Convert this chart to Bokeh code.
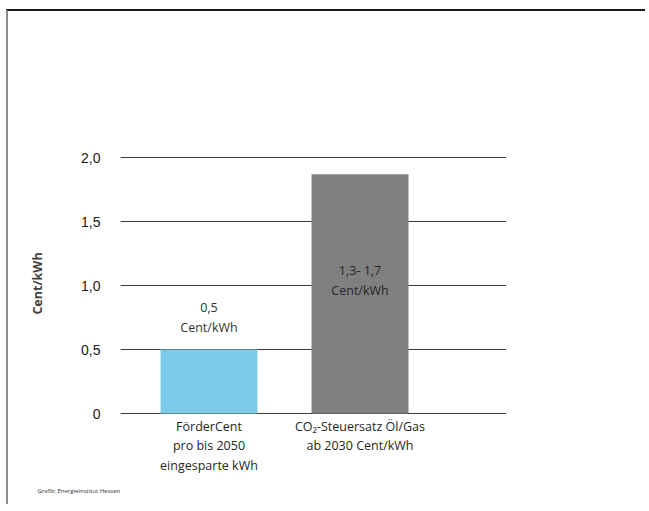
from bokeh.plotting import figure
from bokeh.models import Range1d, FixedTicker, Title
from bokeh.core.properties import value
from bokeh.embed import file_html
from bokeh.resources import INLINE

categories = ["FörderCent\npro bis 2050\neingesparte kWh", "CO₂-Steuersatz Öl/Gas\nab 2030 Cent/kWh"]
positions = [0, 1]
values = [0.5, 1.87]
bar_labels = ["0,5\nCent/kWh", "1,3- 1,7\nCent/kWh"]
bar_colors = ["#7ECAE9", "#808080"]
y_ticks = [0, 0.5, 1.0, 1.5, 2.0]
y_tick_labels = ["0", "0,5", "1,0", "1,5", "2,0"]
source_text = "Grafik: Energieinstitut Hessen"

p = figure(width=639, height=495, output_backend="svg", toolbar_location=None,
           x_range=Range1d(-0.586, 1.970), y_range=Range1d(-0.03125, 2.0625),
           min_border_left=112, min_border_right=141, min_border_top=138, min_border_bottom=89)
p.styles = {"border-top": "2px solid #1a1a1a", "border-left": "2px solid #8c8c8c",
            "margin-top": "9px", "margin-left": "6px"}
p.outline_line_color = None
p.background_fill_color = "white"
p.border_fill_color = "white"

p.vbar(x=positions, top=values, width=0.642, bottom=0, color=bar_colors, line_color=None)

# y axis
p.yaxis.ticker = FixedTicker(ticks=y_ticks)
p.yaxis.major_label_overrides = {t: l for t, l in zip(y_ticks, y_tick_labels)}
p.yaxis.axis_line_color = None
p.yaxis.major_tick_line_color = None
p.yaxis.minor_tick_line_color = None
p.yaxis.major_label_text_font = "Liberation Sans"
p.yaxis.major_label_text_font_size = "14px"
p.yaxis.major_label_text_color = "#1a1a1a"
p.yaxis.major_label_standoff = 14
p.yaxis.axis_label = "Cent/kWh"
p.yaxis.axis_label_text_font = "Open Sans"
p.yaxis.axis_label_text_font_style = "bold"
p.yaxis.axis_label_text_font_size = "12.5px"
p.yaxis.axis_label_text_color = "#404040"
p.yaxis.axis_label_standoff = 32

# x axis
p.xaxis.ticker = FixedTicker(ticks=positions)
p.xaxis.major_label_overrides = {t: l for t, l in zip(positions, categories)}
p.xaxis.axis_line_color = None
p.xaxis.major_tick_line_color = None
p.xaxis.minor_tick_line_color = None
p.xaxis.major_label_text_font = "Open Sans"
p.xaxis.major_label_text_font_size = "12.5px"
p.xaxis.major_label_text_color = "#262626"
p.xaxis.major_label_text_line_height = 1.15
p.xaxis.major_label_standoff = -6

p.xgrid.grid_line_color = None
p.ygrid.ticker = FixedTicker(ticks=y_ticks)
p.ygrid.grid_line_color = "#3c3c3c"
p.ygrid.grid_line_width = 1
p.ygrid.level = "underlay"

# bar value labels
p.text(x=[positions[0]], y=[values[0]], text=[bar_labels[0]], text_align="center",
       text_baseline="bottom", y_offset=-13, text_font=value("Open Sans"), text_font_size="12.5px",
       text_color="#333333", text_line_height=1.2)
p.text(x=[positions[1]], y=[1.0], text=[bar_labels[1]], text_align="center",
       text_baseline="middle", y_offset=-5, text_font=value("Open Sans"), text_font_size="12.5px",
       text_color="#262626", text_line_height=1.2)

src = Title(text=source_text, align="left", offset=-83, standoff=17,
            text_font="Open Sans", text_font_size="6px", text_font_style="normal",
            text_color="#333333")
p.add_layout(src, "below")

open("out.html", "w").write(file_html(p, INLINE))
